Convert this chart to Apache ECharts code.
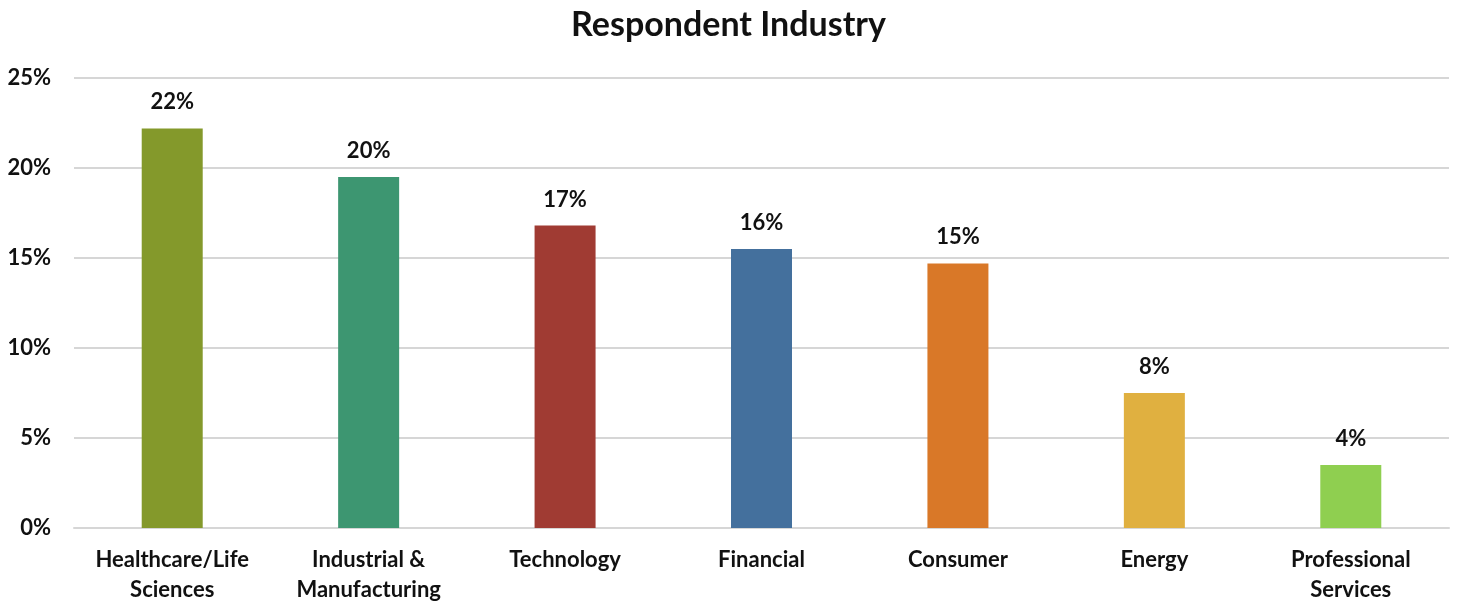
<!DOCTYPE html>
<html>
<head>
<meta charset="utf-8">
<script src="https://cdn.jsdelivr.net/npm/echarts@6/dist/echarts.min.js"></script>
<style>
  html, body { margin: 0; padding: 0; background: #fff; }
  #chart { width: 1457px; height: 605px; }
</style>
</head>
<body>
<div id="chart"></div>
<script>
// Share of respondents by industry (percent)
const categories = ['Healthcare/Life\nSciences', 'Industrial &\nManufacturing', 'Technology', 'Financial', 'Consumer', 'Energy', 'Professional\nServices'];
const shares = [22.2, 19.5, 16.8, 15.5, 14.7, 7.5, 3.5];
const barColors = ['#84992B', '#3D9671', '#A03B33', '#44709D', '#D97828', '#E0B040', '#8FCF50'];
const yTicks = { min: 0, max: 25, interval: 5 };

const FONT = 'Lato, "Open Sans", sans-serif';
const INK = '#111111';
const GRID = '#d6d6d6';

const chart = echarts.init(document.getElementById('chart'), null, { renderer: 'canvas' });
chart.setOption({
  animation: false,
  backgroundColor: '#ffffff',
  title: {
    text: 'Respondent Industry',
    left: 'center',
    top: 3,
    textStyle: { fontFamily: FONT, fontWeight: 'bold', fontSize: 34, color: INK }
  },
  grid: { left: 74, right: 8, top: 78, bottom: 75, containLabel: false },
  xAxis: {
    type: 'category',
    data: categories,
    axisLine: { show: true, lineStyle: { color: GRID, width: 2 } },
    axisTick: { show: false },
    axisLabel: {
      interval: 0,
      margin: 17,
      lineHeight: 30,
      fontFamily: FONT, fontWeight: 'bold', fontSize: 22, color: INK
    }
  },
  yAxis: {
    type: 'value',
    min: yTicks.min, max: yTicks.max, interval: yTicks.interval,
    axisLine: { show: false },
    axisTick: { show: false },
    splitLine: { lineStyle: { color: GRID, width: 2 } },
    axisLabel: {
      margin: 23,
      formatter: v => v + '%',
      fontFamily: FONT, fontWeight: 'bold', fontSize: 22, color: INK
    }
  },
  series: [{
    type: 'bar',
    barWidth: 61,
    data: shares.map((v, i) => ({ value: v, itemStyle: { color: barColors[i] } })),
    label: {
      show: true,
      position: 'top',
      distance: 15,
      formatter: p => Math.round(p.value) + '%',
      fontFamily: FONT, fontWeight: 'bold', fontSize: 22, color: INK
    }
  }]
});
</script>
</body>
</html>
